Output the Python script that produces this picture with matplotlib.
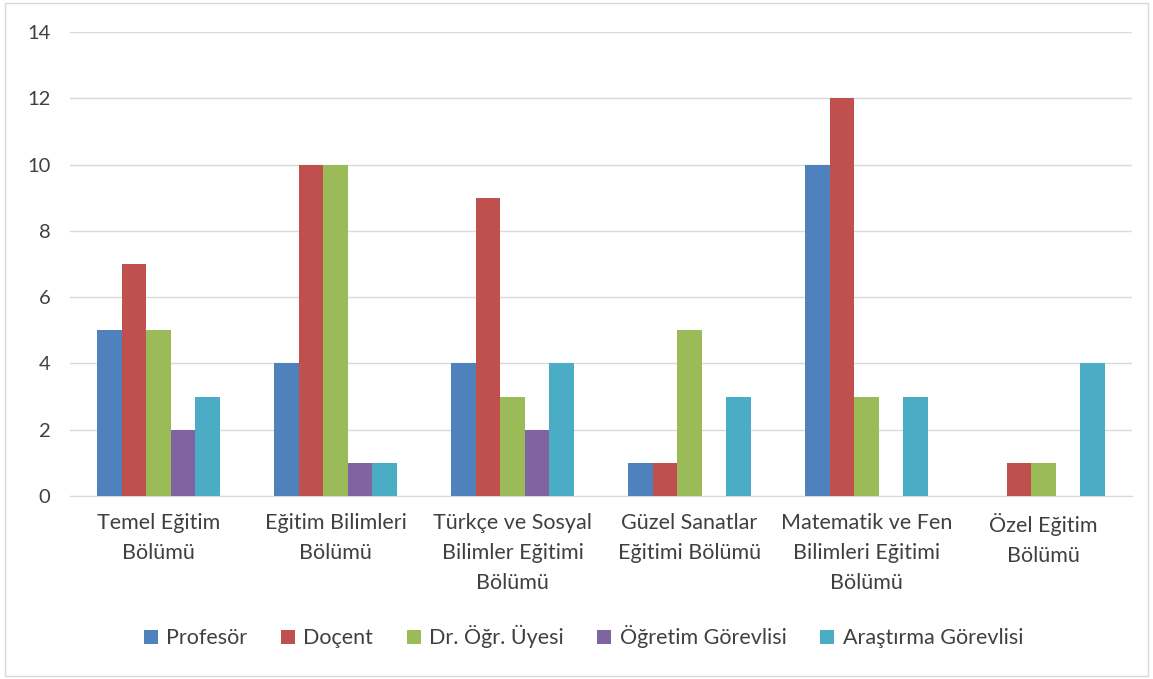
import numpy as np
import matplotlib.pyplot as plt

categories = ['Temel Eğitim\nBölümü', 'Eğitim Bilimleri\nBölümü',
              'Türkçe ve Sosyal\nBilimler Eğitimi\nBölümü', 'Güzel Sanatlar\nEğitimi Bölümü',
              'Matematik ve Fen\nBilimleri Eğitimi\nBölümü', 'Özel Eğitim\nBölümü']
series = ['Profesör', 'Doçent', 'Dr. Öğr. Üyesi', 'Öğretim Görevlisi', 'Araştırma Görevlisi']
profesor = [5, 4, 4, 1, 10, 0]
docent = [7, 10, 9, 1, 12, 1]
dr_ogr = [5, 10, 3, 5, 3, 1]
ogretim_gor = [2, 1, 2, 0, 0, 0]
arastirma_gor = [3, 1, 4, 3, 3, 4]
colors = ['#4F81BD', '#C0504D', '#9BBB59', '#8064A2', '#4BACC6']

plt.rcParams['font.family'] = ['Lato', 'DejaVu Sans']

fig = plt.figure(figsize=(11.53, 6.79), dpi=100)
ax = fig.add_axes([0.0607, 0.2695, 0.9211, 0.6834])

values = [profesor, docent, dr_ogr, ogretim_gor, arastirma_gor]
x = np.arange(len(categories))
w = 0.138
for i, (name, vals) in enumerate(zip(series, values)):
    ax.bar(x + (i - 2) * w, vals, width=w, color=colors[i], label=name, zorder=3)

ax.set_xlim(-0.5, len(categories) - 0.5)
ax.set_ylim(0, 14)
ax.set_yticks(range(0, 15, 2))
ax.grid(axis='y', color='#D9D9D9', linewidth=1, zorder=0)
ax.set_xticks(x)
ax.set_xticklabels(categories, fontsize=15.5, color='#404040', linespacing=1.62)
ax.tick_params(axis='y', labelsize=14.5, labelcolor='#404040', length=0, pad=14)
ax.tick_params(axis='x', length=0, pad=12)
for s in ['top', 'right', 'left']:
    ax.spines[s].set_visible(False)
ax.spines['bottom'].set_color('#D9D9D9')

fig.legend(loc='center', bbox_to_anchor=(0.506, 0.062), ncol=5, frameon=False,
           fontsize=15.5, handlelength=0.65, handleheight=0.65, handletextpad=0.4,
           columnspacing=1.55, labelcolor='#404040')

fig.add_artist(plt.Rectangle((0.004, 0.004), 0.992, 0.992, transform=fig.transFigure,
                             fill=False, edgecolor='#D9D9D9', linewidth=1))

fig.savefig('out.png', dpi=100)
